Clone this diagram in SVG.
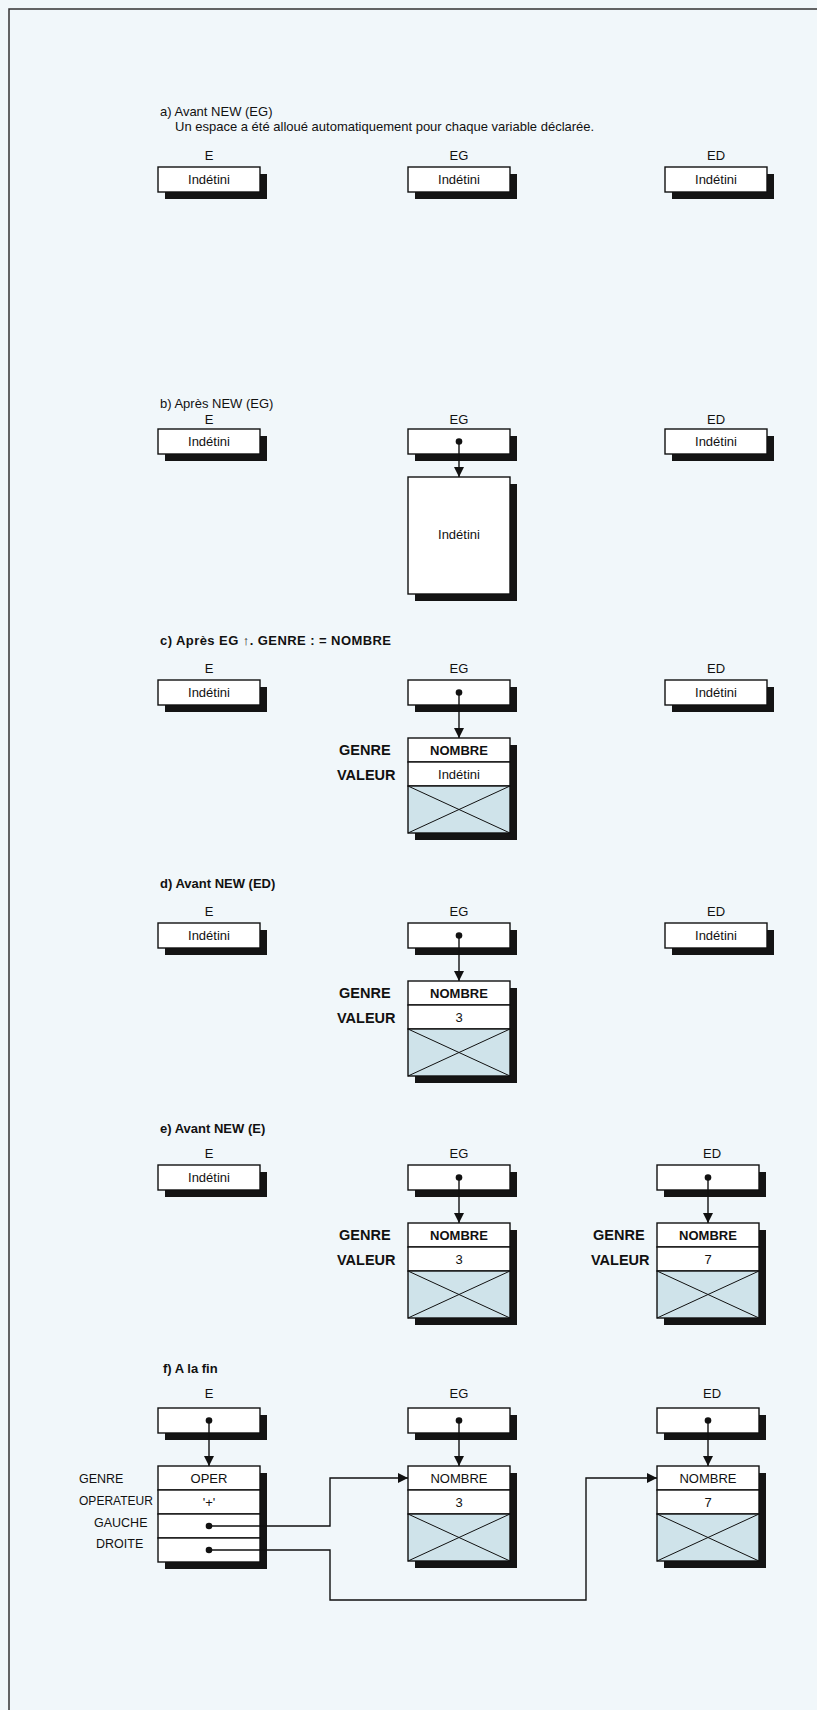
<svg xmlns="http://www.w3.org/2000/svg" width="817" height="1710" viewBox="0 0 817 1710">
<style>
text{font-family:"Liberation Sans",Arial,sans-serif;font-size:13px;fill:#111}
.c{text-anchor:middle}
.b{font-weight:bold}
.lb{font-weight:bold;font-size:14.5px}
.fl{font-size:12.5px}
.box{fill:#fff;stroke:#111;stroke-width:1.4}
.sh{fill:#141414}
.x{fill:#cfe3ea;stroke:#111;stroke-width:1.4}
.d{stroke:#111;stroke-width:1}
.ln{stroke:#111;stroke-width:1.4;fill:none}
.dot{fill:#111}
</style>
<defs>
<marker id="ah" viewBox="0 0 10 10" refX="10" refY="5" markerWidth="10" markerHeight="10" markerUnits="userSpaceOnUse" orient="auto"><path d="M0,0 L10,5 L0,10 z" fill="#111"/></marker>
</defs>
<rect x="0" y="0" width="817" height="1710" fill="#f1f7fa"/>
<path d="M9,1710 V9 H817" fill="none" stroke="#333" stroke-width="1.5"/>

<!-- a -->
<g id="a-title">
<text x="160" y="116">a)  Avant NEW (EG)</text>
<text x="175" y="131">Un espace a été alloué automatiquement pour chaque variable déclarée.</text>
</g>
<g id="a-E"><text class="c" x="209" y="160">E</text><rect class="sh" x="165" y="174" width="102" height="25"/><rect class="box" x="158" y="167" width="102" height="25"/><text class="c" x="209" y="184">Indétini</text></g>
<g id="a-EG"><text class="c" x="459" y="160">EG</text><rect class="sh" x="415" y="174" width="102" height="25"/><rect class="box" x="408" y="167" width="102" height="25"/><text class="c" x="459" y="184">Indétini</text></g>
<g id="a-ED"><text class="c" x="716" y="160">ED</text><rect class="sh" x="672" y="174" width="102" height="25"/><rect class="box" x="665" y="167" width="102" height="25"/><text class="c" x="716" y="184">Indétini</text></g>

<!-- b -->
<g id="b-title"><text x="160" y="408">b)  Après NEW (EG)</text></g>
<g id="b-E"><text class="c" x="209" y="424">E</text><rect class="sh" x="165" y="436" width="102" height="25"/><rect class="box" x="158" y="429" width="102" height="25"/><text class="c" x="209" y="446">Indétini</text></g>
<g id="b-EG"><text class="c" x="459" y="424">EG</text><rect class="sh" x="415" y="436" width="102" height="25"/><rect class="box" x="408" y="429" width="102" height="25"/></g>
<g id="b-ED"><text class="c" x="716" y="424">ED</text><rect class="sh" x="672" y="436" width="102" height="25"/><rect class="box" x="665" y="429" width="102" height="25"/><text class="c" x="716" y="446">Indétini</text></g>
<g id="b-EGrec"><rect class="sh" x="415" y="484" width="102" height="117"/><rect class="box" x="408" y="477" width="102" height="117"/><text class="c" x="459" y="539">Indétini</text></g>

<!-- c -->
<g id="c-title"><text class="b" x="160" y="645" textLength="231" lengthAdjust="spacing">c)  Après EG ↑. GENRE : = NOMBRE</text></g>
<g id="c-E"><text class="c" x="209" y="673">E</text><rect class="sh" x="165" y="687" width="102" height="25"/><rect class="box" x="158" y="680" width="102" height="25"/><text class="c" x="209" y="697">Indétini</text></g>
<g id="c-EG"><text class="c" x="459" y="673">EG</text><rect class="sh" x="415" y="687" width="102" height="25"/><rect class="box" x="408" y="680" width="102" height="25"/></g>
<g id="c-ED"><text class="c" x="716" y="673">ED</text><rect class="sh" x="672" y="687" width="102" height="25"/><rect class="box" x="665" y="680" width="102" height="25"/><text class="c" x="716" y="697">Indétini</text></g>
<g id="c-EGrec">
<rect class="sh" x="415" y="745" width="102" height="95"/>
<rect class="box" x="408" y="738" width="102" height="24"/>
<rect class="box" x="408" y="762" width="102" height="24"/>
<rect class="x" x="408" y="786" width="102" height="47"/>
<path class="d" d="M408,786 L510,833 M510,786 L408,833"/>
<text class="c b" x="459" y="755">NOMBRE</text>
<text class="c" x="459" y="779">Indétini</text>
<text class="lb" x="339" y="755">GENRE</text>
<text class="lb" x="337" y="780">VALEUR</text>
</g>

<!-- d -->
<g id="d-title"><text class="b" x="160" y="888">d)  Avant NEW (ED)</text></g>
<g id="d-E"><text class="c" x="209" y="916">E</text><rect class="sh" x="165" y="930" width="102" height="25"/><rect class="box" x="158" y="923" width="102" height="25"/><text class="c" x="209" y="940">Indétini</text></g>
<g id="d-EG"><text class="c" x="459" y="916">EG</text><rect class="sh" x="415" y="930" width="102" height="25"/><rect class="box" x="408" y="923" width="102" height="25"/></g>
<g id="d-ED"><text class="c" x="716" y="916">ED</text><rect class="sh" x="672" y="930" width="102" height="25"/><rect class="box" x="665" y="923" width="102" height="25"/><text class="c" x="716" y="940">Indétini</text></g>
<g id="d-EGrec">
<rect class="sh" x="415" y="988" width="102" height="95"/>
<rect class="box" x="408" y="981" width="102" height="24"/>
<rect class="box" x="408" y="1005" width="102" height="24"/>
<rect class="x" x="408" y="1029" width="102" height="47"/>
<path class="d" d="M408,1029 L510,1076 M510,1029 L408,1076"/>
<text class="c b" x="459" y="998">NOMBRE</text>
<text class="c" x="459" y="1022">3</text>
<text class="lb" x="339" y="998">GENRE</text>
<text class="lb" x="337" y="1023">VALEUR</text>
</g>

<!-- e -->
<g id="e-title"><text class="b" x="160" y="1133">e)  Avant NEW (E)</text></g>
<g id="e-E"><text class="c" x="209" y="1158">E</text><rect class="sh" x="165" y="1172" width="102" height="25"/><rect class="box" x="158" y="1165" width="102" height="25"/><text class="c" x="209" y="1182">Indétini</text></g>
<g id="e-EG"><text class="c" x="459" y="1158">EG</text><rect class="sh" x="415" y="1172" width="102" height="25"/><rect class="box" x="408" y="1165" width="102" height="25"/></g>
<g id="e-ED"><text class="c" x="712" y="1158">ED</text><rect class="sh" x="664" y="1172" width="102" height="25"/><rect class="box" x="657" y="1165" width="102" height="25"/></g>
<g id="e-EGrec">
<rect class="sh" x="415" y="1230" width="102" height="95"/>
<rect class="box" x="408" y="1223" width="102" height="24"/>
<rect class="box" x="408" y="1247" width="102" height="24"/>
<rect class="x" x="408" y="1271" width="102" height="47"/>
<path class="d" d="M408,1271 L510,1318 M510,1271 L408,1318"/>
<text class="c b" x="459" y="1240">NOMBRE</text>
<text class="c" x="459" y="1264">3</text>
<text class="lb" x="339" y="1240">GENRE</text>
<text class="lb" x="337" y="1265">VALEUR</text>
</g>
<g id="e-EDrec">
<rect class="sh" x="664" y="1230" width="102" height="95"/>
<rect class="box" x="657" y="1223" width="102" height="24"/>
<rect class="box" x="657" y="1247" width="102" height="24"/>
<rect class="x" x="657" y="1271" width="102" height="47"/>
<path class="d" d="M657,1271 L759,1318 M759,1271 L657,1318"/>
<text class="c b" x="708" y="1240">NOMBRE</text>
<text class="c" x="708" y="1264">7</text>
<text class="lb" x="593" y="1240">GENRE</text>
<text class="lb" x="591" y="1265">VALEUR</text>
</g>

<!-- f -->
<g id="f-title"><text class="b" x="163" y="1373">f)  A la fin</text></g>
<g id="f-E"><text class="c" x="209" y="1398">E</text><rect class="sh" x="165" y="1415" width="102" height="25"/><rect class="box" x="158" y="1408" width="102" height="25"/></g>
<g id="f-EG"><text class="c" x="459" y="1398">EG</text><rect class="sh" x="415" y="1415" width="102" height="25"/><rect class="box" x="408" y="1408" width="102" height="25"/></g>
<g id="f-ED"><text class="c" x="712" y="1398">ED</text><rect class="sh" x="664" y="1415" width="102" height="25"/><rect class="box" x="657" y="1408" width="102" height="25"/></g>
<g id="f-Erec">
<rect class="sh" x="165" y="1473" width="102" height="96"/>
<rect class="box" x="158" y="1466" width="102" height="24"/>
<rect class="box" x="158" y="1490" width="102" height="24"/>
<rect class="box" x="158" y="1514" width="102" height="24"/>
<rect class="box" x="158" y="1538" width="102" height="24"/>
<text class="c" x="209" y="1483">OPER</text>
<text class="c" x="209" y="1507">'+'</text>
<circle class="dot" cx="209" cy="1526" r="3.3"/>
<circle class="dot" cx="209" cy="1550" r="3.3"/>
<text class="fl" x="79" y="1483">GENRE</text>
<text class="fl" x="79" y="1505" textLength="74" lengthAdjust="spacingAndGlyphs">OPERATEUR</text>
<text class="fl" x="94" y="1527">GAUCHE</text>
<text class="fl" x="96" y="1548">DROITE</text>
</g>
<g id="f-EGrec">
<rect class="sh" x="415" y="1473" width="102" height="95"/>
<rect class="box" x="408" y="1466" width="102" height="24"/>
<rect class="box" x="408" y="1490" width="102" height="24"/>
<rect class="x" x="408" y="1514" width="102" height="47"/>
<path class="d" d="M408,1514 L510,1561 M510,1514 L408,1561"/>
<text class="c" x="459" y="1483">NOMBRE</text>
<text class="c" x="459" y="1507">3</text>
</g>
<g id="f-EDrec">
<rect class="sh" x="664" y="1473" width="102" height="95"/>
<rect class="box" x="657" y="1466" width="102" height="24"/>
<rect class="box" x="657" y="1490" width="102" height="24"/>
<rect class="x" x="657" y="1514" width="102" height="47"/>
<path class="d" d="M657,1514 L759,1561 M759,1514 L657,1561"/>
<text class="c" x="708" y="1483">NOMBRE</text>
<text class="c" x="708" y="1507">7</text>
</g>

<g id="connectors">
<circle class="dot" cx="459" cy="441.5" r="3.3"/><path class="ln" d="M459,441.5 V477" marker-end="url(#ah)"/>
<circle class="dot" cx="459" cy="692.5" r="3.3"/><path class="ln" d="M459,692.5 V738" marker-end="url(#ah)"/>
<circle class="dot" cx="459" cy="935.5" r="3.3"/><path class="ln" d="M459,935.5 V981" marker-end="url(#ah)"/>
<circle class="dot" cx="459" cy="1177.5" r="3.3"/><path class="ln" d="M459,1177.5 V1223" marker-end="url(#ah)"/>
<circle class="dot" cx="708" cy="1177.5" r="3.3"/><path class="ln" d="M708,1177.5 V1223" marker-end="url(#ah)"/>
<circle class="dot" cx="209" cy="1420.5" r="3.3"/><path class="ln" d="M209,1420.5 V1466" marker-end="url(#ah)"/>
<circle class="dot" cx="459" cy="1420.5" r="3.3"/><path class="ln" d="M459,1420.5 V1466" marker-end="url(#ah)"/>
<circle class="dot" cx="708" cy="1420.5" r="3.3"/><path class="ln" d="M708,1420.5 V1466" marker-end="url(#ah)"/>
<path class="ln" d="M209,1526 H330 V1478 H408" marker-end="url(#ah)"/>
<path class="ln" d="M209,1550 H330 V1600 H586 V1478 H657" marker-end="url(#ah)"/>
</g>
</svg>
